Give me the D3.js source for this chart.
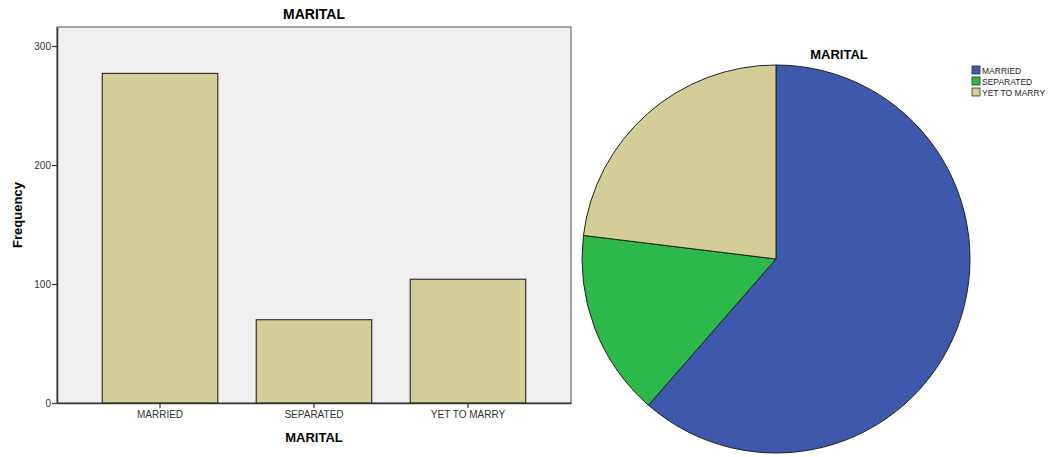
<!DOCTYPE html>
<html>
<head>
<meta charset="utf-8">
<script src="https://cdn.jsdelivr.net/npm/d3@7"></script>
<style>
  body { margin: 0; background: #fff; }
  text { font-family: "Liberation Sans", Arial, sans-serif; }
</style>
</head>
<body>
<svg id="chart" width="1048" height="457"></svg>
<script>
var categories = ["MARRIED", "SEPARATED", "YET TO MARRY"];
var counts = [277, 70, 104];
var yTicks = [0, 100, 200, 300];
var colors = ["#3e58ac", "#2db84a", "#d3ce97"];

var svg = d3.select("#chart");

// ---- bar chart ----
var plotLeft = 57, plotRight = 571, plotTop = 27, plotBottom = 403;

var x = d3.scaleBand()
    .domain(categories)
    .range([plotLeft, plotRight])
    .paddingInner(0.25)
    .paddingOuter(0.294);

var y = d3.scaleLinear()
    .domain([0, 316])
    .range([plotBottom, plotTop]);

svg.append("rect")
    .attr("x", plotLeft)
    .attr("y", plotTop)
    .attr("width", plotRight - plotLeft)
    .attr("height", plotBottom - plotTop)
    .style("fill", "#f0f0f0")
    .style("stroke", "#555")
    .style("stroke-width", 1);

svg.selectAll(".bar")
    .data(counts)
    .enter()
    .append("rect")
    .attr("class", "bar")
    .attr("x", function (d, i) { return x(categories[i]); })
    .attr("y", function (d) { return y(d); })
    .attr("width", x.bandwidth())
    .attr("height", function (d) { return plotBottom - y(d); })
    .style("fill", "#d3ce97")
    .style("stroke", "#333")
    .style("stroke-width", 1.2);

var yAxis = svg.append("g")
    .attr("transform", "translate(" + plotLeft + ",0)")
    .call(d3.axisLeft(y).tickValues(yTicks).tickSize(5).tickSizeOuter(0));
yAxis.select(".domain").style("stroke", "#333").style("stroke-width", 1.5);
yAxis.selectAll("line").style("stroke", "#333").style("stroke-width", 1.2);
yAxis.selectAll("text").attr("x", -6).style("font-size", "10px").style("fill", "#333");

var xAxis = svg.append("g")
    .attr("transform", "translate(0," + plotBottom + ")")
    .call(d3.axisBottom(x).tickSize(5).tickSizeOuter(0));
xAxis.select(".domain").style("stroke", "#333").style("stroke-width", 1.5);
xAxis.selectAll("line").style("stroke", "#333").style("stroke-width", 1.2);
xAxis.selectAll("text").attr("y", 8).style("font-size", "10px").style("fill", "#333");

svg.append("text")
    .attr("x", (plotLeft + plotRight) / 2)
    .attr("y", 19)
    .attr("text-anchor", "middle")
    .style("font-size", "14px")
    .style("font-weight", "bold")
    .text("MARITAL");

svg.append("text")
    .attr("x", (plotLeft + plotRight) / 2)
    .attr("y", 442)
    .attr("text-anchor", "middle")
    .style("font-size", "13px")
    .style("font-weight", "bold")
    .text("MARITAL");

svg.append("text")
    .attr("transform", "translate(22,215) rotate(-90)")
    .attr("text-anchor", "middle")
    .style("font-size", "13px")
    .style("font-weight", "bold")
    .text("Frequency");

// ---- pie chart ----
var cx = 776, cy = 259, radius = 194;

var pie = d3.pie().sort(null)(counts);
var arc = d3.arc().innerRadius(0).outerRadius(radius);

svg.append("g")
    .attr("transform", "translate(" + cx + "," + cy + ")")
    .selectAll("path")
    .data(pie)
    .enter()
    .append("path")
    .attr("d", arc)
    .style("fill", function (d, i) { return colors[i]; })
    .style("stroke", "#222")
    .style("stroke-width", 1);

svg.append("text")
    .attr("x", 839)
    .attr("y", 59)
    .attr("text-anchor", "middle")
    .style("font-size", "13px")
    .style("font-weight", "bold")
    .text("MARITAL");

var legend = svg.append("g")
    .attr("transform", "translate(972,66)")
    .selectAll("g")
    .data(categories)
    .enter()
    .append("g")
    .attr("transform", function (d, i) { return "translate(0," + i * 11 + ")"; });

legend.append("rect")
    .attr("width", 8)
    .attr("height", 8)
    .style("fill", function (d, i) { return colors[i]; })
    .style("stroke", "#333")
    .style("stroke-width", 0.8);

legend.append("text")
    .attr("x", 10)
    .attr("y", 8)
    .style("font-size", "8.5px")
    .style("fill", "#222")
    .text(function (d) { return d; });
</script>
</body>
</html>
